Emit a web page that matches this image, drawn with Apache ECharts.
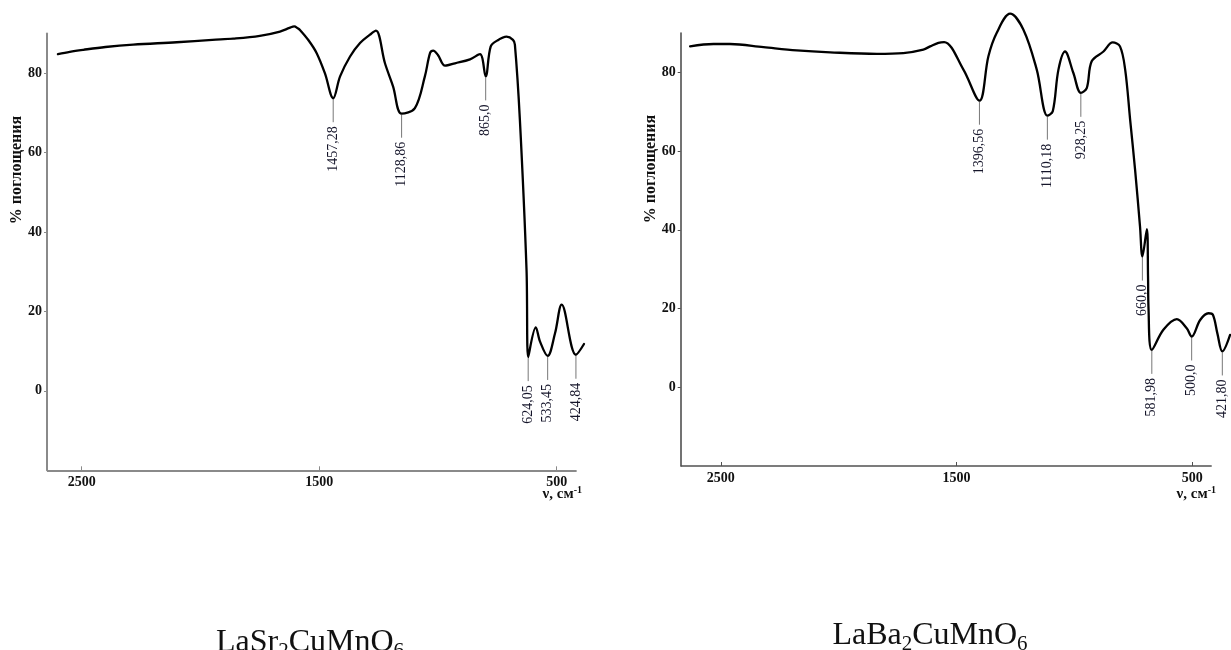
<!DOCTYPE html>
<html>
<head>
<meta charset="utf-8">
<script src="https://cdn.jsdelivr.net/npm/echarts@6/dist/echarts.min.js"></script>
<style>
html,body{margin:0;padding:0;background:#fff;}
#chart{width:1231px;height:650px;}
</style>
</head>
<body>
<div id="chart"></div>
<script>
// ---- data: LaSr2CuMnO6 ----
const srWavenumber = [2600, 2550, 2493, 2400, 2283, 2100, 1950, 1862, 1750, 1665, 1625, 1605, 1590, 1581, 1545, 1511, 1476, 1441, 1412, 1370, 1328, 1286, 1261, 1223, 1189, 1153, 1097, 1055, 1033, 1020, 1000, 970, 928, 865, 823, 799, 778, 751, 711, 684, 676, 655, 627, 620, 588, 570, 538, 507, 479, 419, 385];
const srAbsorb     = [84.8, 85.4, 85.9, 86.6, 87.2, 87.8, 88.4, 88.7, 89.4, 90.5, 91.4, 91.8, 91.3, 90.9, 88.3, 85.1, 80.0, 73.7, 79.2, 84.2, 87.6, 89.7, 90.7, 82.5, 76.7, 69.8, 71.2, 79.2, 85.1, 85.7, 84.6, 81.9, 82.5, 83.5, 84.8, 79.2, 86.7, 88.2, 89.2, 88.4, 87.2, 68.3, 30.5, 8.5, 16.0, 12.4, 8.8, 14.5, 21.7, 9.1, 11.8];
const srPeakWn     = [1441, 1153, 799, 620, 538, 419];
const srPeakAbs    = [73.7, 69.8, 79.2, 8.5, 8.8, 9.1];
const srPeakLabels = ['1457,28', '1128,86', '865,0', '624,05', '533,45', '424,84'];
const srAxisRange  = [416, 2646];   // drawn x-axis extent (cm-1)
const srViewRange  = [385, 2646];   // plotted extent (curve runs past the axis end)

// ---- data: LaBa2CuMnO6 ----
const baWavenumber = [2630, 2531, 2461, 2319, 2178, 2036, 1838, 1726, 1641, 1612, 1577, 1553, 1471, 1403, 1365, 1330, 1273, 1217, 1160, 1115, 1092, 1068, 1040, 1005, 973, 948, 927, 877, 838, 807, 785, 764, 743, 722, 712, 693, 688, 686, 672, 623, 566, 524, 503, 467, 432, 413, 394, 373, 340];
const baAbsorb     = [86.6, 87.2, 87.2, 86.4, 85.6, 85.1, 84.7, 84.9, 85.8, 86.6, 87.5, 87.7, 80.7, 72.8, 84.1, 90.0, 94.9, 90.9, 80.7, 69.0, 70.1, 80.7, 85.3, 79.9, 74.8, 76.0, 82.8, 85.3, 87.6, 86.6, 80.7, 68.0, 55.3, 40.8, 33.2, 40.2, 28.0, 20.0, 9.5, 14.6, 17.3, 15.0, 12.9, 17.1, 18.8, 18.4, 13.7, 9.1, 13.3];
const baPeakWn     = [1403, 1115, 973, 712, 672, 503, 373];
const baPeakAbs    = [72.8, 69.0, 74.8, 33.2, 9.5, 12.9, 9.1];
const baPeakLabels = ['1396,56', '1110,18', '928,25', '660,0', '581,98', '500,0', '421,80'];
const baAxisRange  = [418, 2670];
const baViewRange  = [340, 2670];

// ---- tick labels ----
const xTickValues = [500, 1500, 2500];
const yTickValues = [0, 20, 40, 60, 80];
const yRange = [-20, 90];
const yAxisTitle = '% поглощения';
const xAxisTitle = ['ν, см', '-1'];
const titles = [['LaSr', '2', 'CuMnO', '6'], ['LaBa', '2', 'CuMnO', '6']];

const zip = (a, b) => a.map((v, i) => [v, b[i]]);
const SERIF = '"Liberation Serif", "Times New Roman", serif';

function xAxisCfg(gi, view, color) {
  return {
    type: 'value', gridIndex: gi, inverse: true, min: view[0], max: view[1],
    splitLine: { show: false },
    axisLine: { show: false, onZero: false },
    axisTick: { show: true, inside: true, length: 4, customValues: xTickValues, lineStyle: { color: color, width: 1 } },
    axisLabel: { customValues: xTickValues, margin: 5, color: '#111', fontFamily: SERIF, fontWeight: 'bold', fontSize: 14,
      formatter: v => String(v) }
  };
}
function yAxisCfg(gi, color, width) {
  return {
    type: 'value', gridIndex: gi, min: yRange[0], max: yRange[1],
    splitLine: { show: false },
    axisLine: { show: true, onZero: false, lineStyle: { color: color, width: width } },
    axisTick: { show: true, length: 3, customValues: yTickValues, lineStyle: { color: color, width: 1 } },
    axisLabel: { customValues: yTickValues, margin: 5, color: '#111', fontFamily: SERIF, fontWeight: 'bold', fontSize: 14,
      formatter: v => String(v) }
  };
}
function peakSeries(idx, wn, ab, labels) {
  return {
    type: 'custom', xAxisIndex: idx, yAxisIndex: idx, clip: false, z: 1,
    data: zip(wn, ab),
    encode: { x: 0, y: 1 },
    renderItem: function (params, api) {
      const p = api.coord([api.value(0), api.value(1)]);
      return {
        type: 'group',
        children: [
          { type: 'line', shape: { x1: p[0], y1: p[1] + 1, x2: p[0], y2: p[1] + 24 },
            style: { stroke: '#777', lineWidth: 1 } },
          { type: 'text', x: p[0], y: p[1] + 28, rotation: Math.PI / 2,
            style: { text: labels[params.dataIndex], fill: '#15152a',
              font: '14px ' + SERIF, align: 'right', verticalAlign: 'middle',
              textAlign: 'right', textVerticalAlign: 'middle' } }
        ]
      };
    }
  };
}
function lineSeries(idx, wn, ab, axisRange, color, width) {
  return {
    type: 'line', xAxisIndex: idx, yAxisIndex: idx, data: zip(wn, ab),
    showSymbol: false, symbol: 'none', smooth: 0.35, clip: false, z: 3,
    lineStyle: { color: '#000', width: 2.3, join: 'round', cap: 'round' },
    markLine: {
      silent: true, symbol: ['none', 'none'], label: { show: false }, z: 2,
      lineStyle: { type: 'solid', color: color, width: width },
      emphasis: { disabled: true },
      data: [[{ coord: [axisRange[1], yRange[0]] }, { coord: [axisRange[0], yRange[0]] }]]
    }
  };
}
function titleText(x, y, parts) {
  return {
    type: 'text', x: x, y: y,
    style: {
      text: '{n|' + parts[0] + '}{s|' + parts[1] + '}{n|' + parts[2] + '}{s|' + parts[3] + '}',
      align: 'center', verticalAlign: 'middle',
      rich: {
        n: { fontFamily: SERIF, fontSize: 32, lineHeight: 38, fill: '#111', color: '#111' },
        s: { fontFamily: SERIF, fontSize: 21, lineHeight: 21, verticalAlign: 'bottom', fill: '#111', color: '#111' }
      }
    }
  };
}
function yTitle(x, y) {
  return { type: 'text', x: x, y: y, rotation: Math.PI / 2,
    style: { text: yAxisTitle, font: 'bold 16px ' + SERIF, fill: '#111', align: 'center', verticalAlign: 'middle' } };
}
function xTitle(x, y) {
  return { type: 'text', x: x, y: y,
    style: { text: '{a|' + xAxisTitle[0] + '}{b|' + xAxisTitle[1] + '}', align: 'right', verticalAlign: 'middle',
      rich: {
        a: { fontFamily: SERIF, fontWeight: 'bold', fontSize: 15, lineHeight: 17, fill: '#111', color: '#111' },
        b: { fontFamily: SERIF, fontWeight: 'bold', fontSize: 10, lineHeight: 10, verticalAlign: 'top', fill: '#111', color: '#111' }
      } } };
}

const chart = echarts.init(document.getElementById('chart'), null, { renderer: 'canvas' });
chart.setOption({
  animation: false,
  backgroundColor: '#fff',
  grid: [
    { left: 47, top: 33.5, width: 537, height: 436.8 },
    { left: 680.7, top: 33, width: 549.4, height: 433 }
  ],
  xAxis: [xAxisCfg(0, srViewRange, '#8a8a8a'), xAxisCfg(1, baViewRange, '#505050')],
  yAxis: [yAxisCfg(0, '#8a8a8a', 2), yAxisCfg(1, '#505050', 1.6)],
  series: [
    lineSeries(0, srWavenumber, srAbsorb, srAxisRange, '#8a8a8a', 2),
    peakSeries(0, srPeakWn, srPeakAbs, srPeakLabels),
    lineSeries(1, baWavenumber, baAbsorb, baAxisRange, '#505050', 1.6),
    peakSeries(1, baPeakWn, baPeakAbs, baPeakLabels)
  ],
  graphic: [
    yTitle(17, 170), yTitle(651, 169),
    xTitle(582, 494), xTitle(1216, 494),
    titleText(310, 643, titles[0]), titleText(930, 636, titles[1])
  ]
});
</script>
</body>
</html>
